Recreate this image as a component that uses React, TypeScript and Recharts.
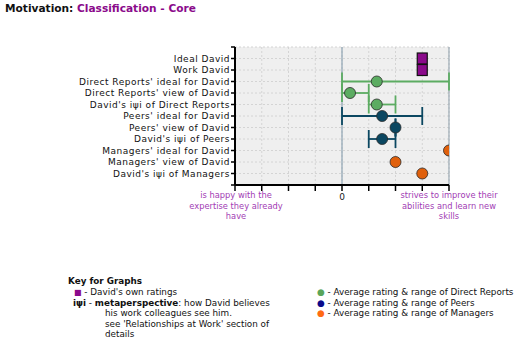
import React from "react";
import {
  CartesianGrid,
  ErrorBar,
  ReferenceLine,
  Scatter,
  ScatterChart,
  XAxis,
  YAxis,
} from "recharts";

const rowLabels = [
  "Ideal David",
  "Work David",
  "Direct Reports' ideal for David",
  "Direct Reports' view of David",
  "David's iψi of Direct Reports",
  "Peers' ideal for David",
  "Peers' view of David",
  "David's iψi of Peers",
  "Managers' ideal for David",
  "Managers' view of David",
  "David's iψi of Managers",
];

const xTicks = [-4, -3, -2, -1, 0, 1, 2, 3, 4];
const yTicks = [0, 1, 2, 3, 4, 5, 6, 7, 8, 9, 10, 11, 12];

const lowEndLines = ["is happy with the", "expertise they already", "have"];
const highEndLines = ["strives to improve their", "abilities and learn new", "skills"];

// rows 1-2
const selfValues = [3, 3];
// rows 3-5
const directMeans = [1.3, 0.3, 1.3];
const directLow = [0, 0, 1];
const directHigh = [4, 1, 2];
// rows 6-8
const peerMeans = [1.5, 2, 1.5];
const peerLow = [0, 2, 1];
const peerHigh = [3, 2, 2];
// rows 9-11
const managerMeans = [4, 2, 3];

const selfData = selfValues.map((v, i) => ({ x: v, y: i + 1 }));
const directData = directMeans.map((v, i) => ({
  x: v,
  y: i + 3,
  err: [v - directLow[i], directHigh[i] - v],
}));
const peerData = peerMeans.map((v, i) => ({
  x: v,
  y: i + 6,
  err: [v - peerLow[i], peerHigh[i] - v],
}));
const managerData = managerMeans.map((v, i) => ({ x: v, y: i + 9 }));

const GREEN = "#5cac62";
const TEAL = "#0b4761";
const ORANGE = "#e0600c";
const PURPLE = "#8b0a8b";
const LABEL_PURPLE = "#a23cb4";
const FONT = "'DejaVu Sans', Verdana, sans-serif";

const dot = (fill: string) => (props: any) => (
  <circle cx={props.cx} cy={props.cy} r={5.5} fill={fill} stroke="#2a2a2a" strokeWidth={0.8} />
);

const square = (props: any) => (
  <rect
    x={props.cx - 5}
    y={props.cy - 5.5}
    width={10}
    height={11}
    fill={PURPLE}
    stroke="#111"
    strokeWidth={1.2}
  />
);

const axisLabel: React.CSSProperties = {
  position: "absolute",
  width: 120,
  textAlign: "center",
  color: LABEL_PURPLE,
  fontSize: 8.3,
  lineHeight: "10.5px",
  fontFamily: FONT,
  whiteSpace: "nowrap",
};

const keyText: React.CSSProperties = {
  position: "absolute",
  fontSize: 8.8,
  lineHeight: "10.6px",
  fontFamily: FONT,
  color: "#111",
  whiteSpace: "nowrap",
};

export default function App() {
  return (
    <div
      style={{
        position: "absolute",
        left: 0,
        top: 0,
        width: 530,
        height: 351,
        background: "#fff",
        fontFamily: FONT,
      }}
    >
      <div
        style={{
          position: "absolute",
          left: 5,
          top: 2,
          fontSize: 10.6,
          fontWeight: "bold",
          whiteSpace: "nowrap",
        }}
      >
        <span style={{ color: "#111" }}>Motivation: </span>
        <span style={{ color: PURPLE }}>Classification - Core</span>
      </div>

      <ScatterChart
        width={530}
        height={351}
        margin={{ top: 47, right: 81, bottom: 146, left: 0 }}
      >
        <CartesianGrid fill="#efefef" stroke="#d4d4d4" strokeDasharray="2 2" />
        <XAxis
          type="number"
          dataKey="x"
          domain={[-4, 4]}
          ticks={xTicks}
          tickFormatter={(v: number) => (v === 0 ? "0" : "")}
          axisLine={{ stroke: "#000", strokeWidth: 2 }}
          tickLine={{ stroke: "#000", strokeWidth: 1.5 }}
          tickSize={6}
          tickMargin={3}
          tick={{ fontSize: 9, fill: "#222", fontFamily: FONT }}
          height={20}
          allowDataOverflow
        />
        <YAxis
          type="number"
          dataKey="y"
          domain={[0, 12]}
          ticks={yTicks}
          reversed
          interval={0}
          tickFormatter={(v: number) => rowLabels[v - 1] ?? ""}
          axisLine={{ stroke: "#000", strokeWidth: 2 }}
          tickLine={{ stroke: "#000", strokeWidth: 1.5 }}
          tickSize={4}
          tickMargin={1}
          tick={{ fontSize: 9, fill: "#111", fontFamily: FONT, letterSpacing: 0.5 }}
          width={235}
        />
        <ReferenceLine x={0} stroke="#8ea3b3" strokeWidth={1.2} />
        <ReferenceLine x={4} stroke="#9aa8b3" strokeWidth={1.2} />
        <Scatter data={selfData} shape={square} isAnimationActive={false} />
        <Scatter data={directData} shape={dot(GREEN)} isAnimationActive={false}>
          <ErrorBar
            dataKey="err"
            direction="x"
            width={9}
            stroke={GREEN}
            strokeWidth={1.8}
          />
        </Scatter>
        <Scatter data={peerData} shape={dot(TEAL)} isAnimationActive={false}>
          <ErrorBar
            dataKey="err"
            direction="x"
            width={9}
            stroke={TEAL}
            strokeWidth={1.8}
          />
        </Scatter>
        <Scatter data={managerData} shape={dot(ORANGE)} isAnimationActive={false} />
      </ScatterChart>

      <div style={{ ...axisLabel, left: 176, top: 190 }}>
        {lowEndLines.map((l) => (
          <div key={l}>{l}</div>
        ))}
      </div>
      <div style={{ ...axisLabel, left: 389, top: 190 }}>
        {highEndLines.map((l) => (
          <div key={l}>{l}</div>
        ))}
      </div>

      <div style={{ ...keyText, left: 68, top: 276, fontWeight: "bold" }}>
        Key for Graphs
      </div>
      <div style={{ ...keyText, left: 74, top: 287 }}>
        <span style={{ color: PURPLE, fontSize: 8 }}>■</span> - David's own ratings
      </div>
      <div style={{ ...keyText, left: 73, top: 297.5 }}>
        <b>iψi</b> - <b>metaperspective</b>: how David believes
      </div>
      <div style={{ ...keyText, left: 105, top: 308 }}>
        his work colleagues see him.
        <br />
        see 'Relationships at Work' section of
        <br />
        details
      </div>
      <div style={{ ...keyText, left: 317, top: 287 }}>
        <span style={{ color: "#5aa55a" }}>●</span> - Average rating &amp; range of Direct Reports
        <br />
        <span style={{ color: "#0a0a8a" }}>●</span> - Average rating &amp; range of Peers
        <br />
        <span style={{ color: "#ff6a13" }}>●</span> - Average rating &amp; range of Managers
      </div>
    </div>
  );
}
